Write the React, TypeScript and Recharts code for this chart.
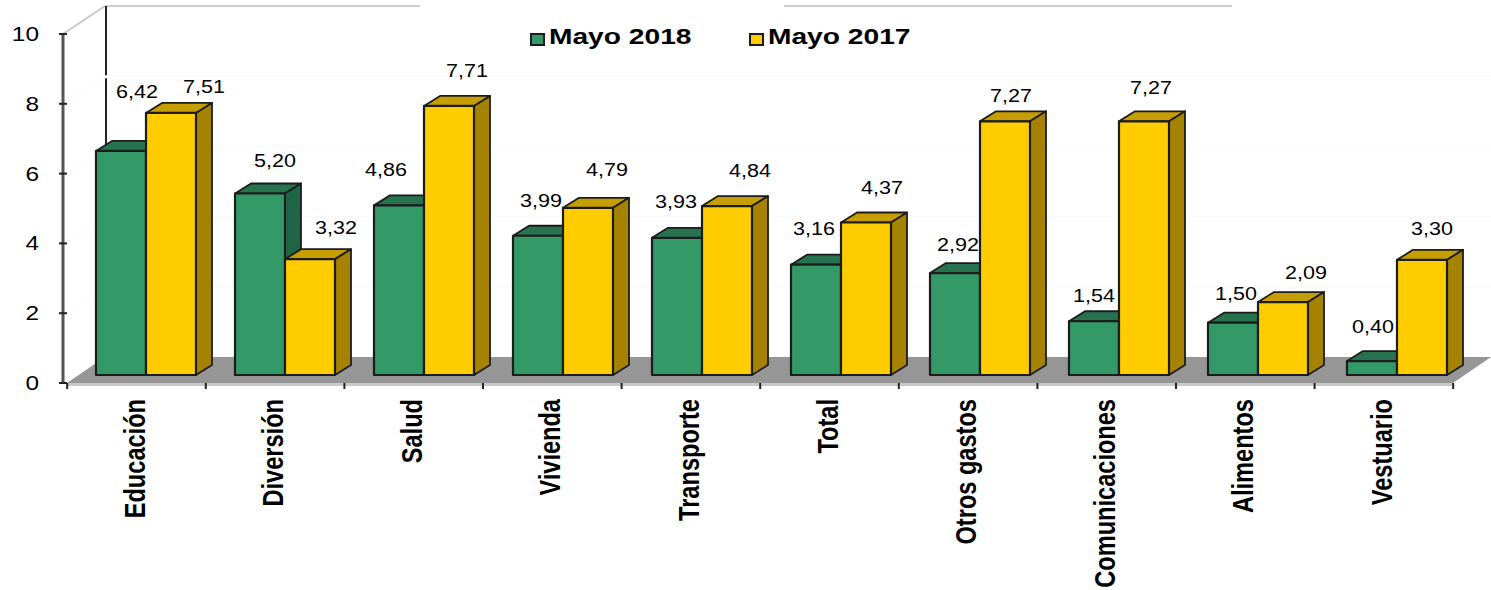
import React from 'react';
import { BarChart, Bar, XAxis, YAxis, Legend, LabelList, ReferenceArea } from 'recharts';

const categories = ['Educación', 'Diversión', 'Salud', 'Vivienda', 'Transporte', 'Total', 'Otros gastos', 'Comunicaciones', 'Alimentos', 'Vestuario'];
const mayo2018 = [6.42, 5.2, 4.86, 3.99, 3.93, 3.16, 2.92, 1.54, 1.5, 0.4];
const mayo2017 = [7.51, 3.32, 7.71, 4.79, 4.84, 4.37, 7.27, 7.27, 2.09, 3.3];
const yTicks = [0, 2, 4, 6, 8, 10];

// hand placed label nudges from the original, relative to the bar's front top edge
const labelNudge2018 = [[16, -59], [15, -33], [-13, -35], [3, -35], [-1, -36], [-2, -36], [3, -28], [0, -25], [3, -29], [1, -34]];
const labelNudge2017 = [[33, -26], [26, -31], [18, -35], [19, -38], [23, -35], [16, -34], [6, -25], [7, -33], [23, -29], [10, -31]];

const data = categories.map((name, i) => ({ name, mayo2018: mayo2018[i], mayo2017: mayo2017[i] }));

const FONT = '"Liberation Sans", Arial, sans-serif';
const SHIFT_X = 9;
const SHIFT_Y = 8;
const DEPTH_X = 16;
const DEPTH_Y = 10;
const BAND = 139;
const TICK_STEP = 138.6; // the axis ticks run slightly tighter than the bars
const EDGE = '#1c1c1c';

function Box3D(props: any) {
  const { x, y, width, height, front, top, side } = props;
  const fx = x + SHIFT_X;
  const fy = y - SHIFT_Y;
  const r = fx + width;
  const b = fy + height;
  return (
    <g stroke={EDGE} strokeWidth={1.8} strokeLinejoin="round">
      <polygon points={`${fx},${fy} ${fx + DEPTH_X},${fy - DEPTH_Y} ${r + DEPTH_X},${fy - DEPTH_Y} ${r},${fy}`} fill={top} />
      <polygon points={`${r},${fy} ${r + DEPTH_X},${fy - DEPTH_Y} ${r + DEPTH_X},${b - DEPTH_Y} ${r},${b}`} fill={side} />
      <rect x={fx} y={fy} width={width} height={height} fill={front} strokeWidth={2.2} />
    </g>
  );
}

function Room(props: any) {
  const { x, y, width, height } = props;
  const left = x;
  const bottom = y + height;
  const right = x + width - 4;
  const backX = left + 38;
  const backTop = y - 28;
  const backBottom = bottom - 26;
  const wallStep = (backBottom - backTop) / 5;
  return (
    <g>
      {[1, 2, 3, 4].map((k) => (
        <g key={k} stroke="#f9f9f9" strokeWidth={1} fill="none">
          <line x1={backX} x2={right + 38} y1={backTop + wallStep * k} y2={backTop + wallStep * k} />
          <line x1={left} x2={backX} y1={y + (height / 5) * k} y2={backTop + wallStep * k} />
        </g>
      ))}
      <line x1={left - 4} y1={y} x2={backX} y2={backTop} stroke="#c8c8c8" strokeWidth={2} />
      <line x1={backX} x2={420} y1={backTop} y2={backTop} stroke="#cfcfcf" strokeWidth={2} />
      <line x1={784} x2={1232} y1={backTop} y2={backTop} stroke="#cfcfcf" strokeWidth={2} />
      <line x1={backX + 1} x2={backX + 1} y1={backTop} y2={backTop + wallStep - 1} stroke="#222" strokeWidth={2} />
      <line x1={backX + 1} x2={backX + 1} y1={backTop + wallStep + 2} y2={backBottom} stroke="#222" strokeWidth={2} />
      <polygon
        points={`${left},${bottom} ${backX},${backBottom} ${right + 38},${backBottom} ${right},${bottom}`}
        fill="#969696"
      />
      <rect x={left} y={bottom} width={right - left} height={3} fill="#c9c9c9" />
    </g>
  );
}

function YTick({ x, y, payload }: any) {
  return (
    <g>
      <line x1={59} x2={67} y1={y} y2={y} stroke="#222" strokeWidth={2} />
      <text
        transform={`translate(${x} ${y + 7}) scale(1.22 1)`}
        textAnchor="end"
        fontFamily={FONT}
        fontSize={20}
        fill="#000"
      >
        {payload.value}
      </text>
    </g>
  );
}

function XTick({ x, y, payload, index }: any) {
  const cx = x - index * (BAND - TICK_STEP);
  return (
    <g>
      {index === 0 && <line x1={cx - TICK_STEP / 2} x2={cx - TICK_STEP / 2} y1={y} y2={y + 6} stroke="#222" strokeWidth={2} />}
      <line x1={cx + TICK_STEP / 2} x2={cx + TICK_STEP / 2} y1={y} y2={y + 6} stroke="#222" strokeWidth={2} />
      <text
        transform={`translate(${cx + 8} ${y + 16}) scale(1.28 1) rotate(-90)`}
        textAnchor="end"
        fontFamily={FONT}
        fontWeight="bold"
        fontSize={23.6}
        fill="#000"
      >
        {payload.value}
      </text>
    </g>
  );
}

function makeLabel(nudges: number[][]) {
  return function ValueLabel({ x, y, width, value, index }: any) {
    const [dx, dy] = nudges[index];
    const cx = x + width / 2 + SHIFT_X + dx;
    const cy = y - SHIFT_Y + dy;
    return (
      <text
        transform={`translate(${cx} ${cy + 6}) scale(1.23 1)`}
        textAnchor="middle"
        fontFamily={FONT}
        fontSize={17.5}
        fill="#000"
      >
        {Number(value).toFixed(2).replace('.', ',')}
      </text>
    );
  };
}

function LegendBox({ payload }: any) {
  return (
    <div style={{ display: 'flex', fontFamily: FONT }}>
      {(payload || []).map((item: any) => (
        <div key={item.value} style={{ width: 219, height: 26, position: 'relative' }}>
          <span
            style={{
              position: 'absolute',
              left: 0,
              top: 10,
              width: 11,
              height: 9,
              background: item.color,
              border: '2px solid #1c1c1c',
            }}
          />
          <span
            style={{
              position: 'absolute',
              left: 19,
              top: 1,
              fontSize: 22,
              fontWeight: 'bold',
              whiteSpace: 'nowrap',
              color: '#000',
              transform: 'scaleX(1.28)',
              transformOrigin: 'left center',
            }}
          >
            {item.value}
          </span>
        </div>
      ))}
    </div>
  );
}

export default function App() {
  return (
    <div style={{ position: 'absolute', left: 0, top: 0, width: 1491, height: 590 }}>
      <BarChart
        width={1491}
        height={590}
        data={data}
        margin={{ top: 34, right: 34, bottom: 0, left: 0 }}
        barGap={0}
        barSize={50}
      >
        <ReferenceArea y1={0} y2={10} shape={Room} />
        <XAxis
          dataKey="name"
          height={207}
          interval={0}
          padding={{ left: 4, right: 0 }}
          axisLine={false}
          tickLine={false}
          tickMargin={0}
          tickSize={0}
          tick={XTick}
        />
        <YAxis
          width={63}
          domain={[0, 10]}
          ticks={yTicks}
          axisLine={{ stroke: '#555', strokeWidth: 3 }}
          tickLine={false}
          tickSize={0}
          tick={(p: any) => <YTick {...p} x={39} />}
        />
        <Legend
          layout="horizontal"
          align="center"
          verticalAlign="middle"
          itemSorter={null}
          content={LegendBox}
          wrapperStyle={{ left: 530, top: 23, width: 440 }}
        />
        <Bar
          dataKey="mayo2018"
          name="Mayo 2018"
          fill="#339966"
          isAnimationActive={false}
          shape={(p: any) => <Box3D {...p} front="#339966" top="#27734f" side="#1f6647" />}
        >
          <LabelList dataKey="mayo2018" content={makeLabel(labelNudge2018)} />
        </Bar>
        <Bar
          dataKey="mayo2017"
          name="Mayo 2017"
          fill="#ffcc00"
          isAnimationActive={false}
          shape={(p: any) => <Box3D {...p} front="#ffcc00" top="#c79e00" side="#a58200" />}
        >
          <LabelList dataKey="mayo2017" content={makeLabel(labelNudge2017)} />
        </Bar>
      </BarChart>
    </div>
  );
}
